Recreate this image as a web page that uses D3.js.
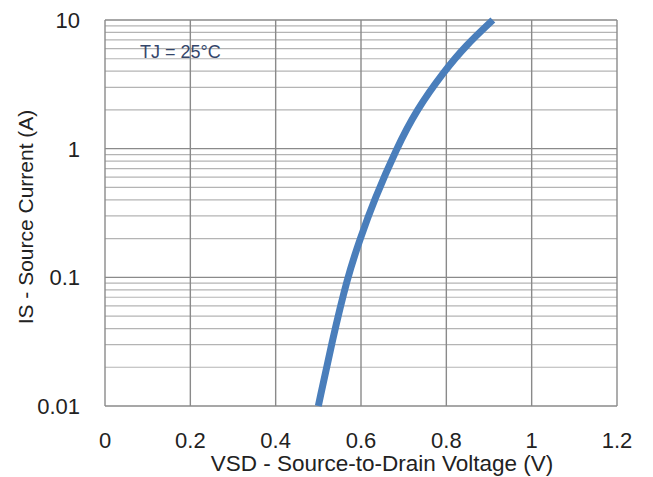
<!DOCTYPE html>
<html>
<head>
<meta charset="utf-8">
<script src="https://cdn.jsdelivr.net/npm/d3@7"></script>
<style>
	body { margin: 0; background: #fff; }
	text { font-family: "Liberation Sans", Arial, sans-serif; fill: #222; }
</style>
</head>
<body>
<svg id="chart"></svg>
<script>
// forward diode curve
let vsd = [0.500, 0.532, 0.568, 0.598, 0.631, 0.683, 0.730, 0.795, 0.845, 0.909];
let isCurrent = [0.01, 0.0316, 0.1, 0.2, 0.4, 1.0, 2.0, 4.0, 6.3, 10];

let xTicks = [0, 0.2, 0.4, 0.6, 0.8, 1, 1.2];
let yTicks = [0.01, 0.1, 1, 10];

let width = 653, height = 477;
let margin = {top: 20, right: 36, bottom: 71, left: 105};

let svg = d3.select("#chart")
	.attr("width", width)
	.attr("height", height);

let x = d3.scaleLinear()
	.domain([0, 1.2])
	.range([margin.left, width - margin.right]);
let y = d3.scaleLog()
	.domain([0.01, 10])
	.range([height - margin.bottom, margin.top]);

// minor horizontal grid, 2..9 of every decade
let minor = [];
[0.01, 0.1, 1].forEach(function(d){
	for (let k = 2; k <= 9; k++) minor.push(d*k);
});

let grid = svg.append("g");
grid.selectAll("line.minor")
	.data(minor)
	.enter().append("line")
	.attr("x1", x(0)).attr("x2", x(1.2))
	.attr("y1", (d) => y(d)).attr("y2", (d) => y(d))
	.attr("stroke", "#b4b4b4")
	.attr("stroke-width", 1.2);

grid.selectAll("line.major")
	.data(yTicks)
	.enter().append("line")
	.attr("x1", x(0)).attr("x2", x(1.2))
	.attr("y1", (d) => y(d)).attr("y2", (d) => y(d))
	.attr("stroke", "#8a8a8a")
	.attr("stroke-width", 1.4);

grid.selectAll("line.vert")
	.data(xTicks)
	.enter().append("line")
	.attr("x1", (d) => x(d)).attr("x2", (d) => x(d))
	.attr("y1", y(10)).attr("y2", y(0.01))
	.attr("stroke", "#8a8a8a")
	.attr("stroke-width", 1.4);

// tick labels
svg.append("g").selectAll("text")
	.data(xTicks)
	.enter().append("text")
	.attr("x", (d) => x(d))
	.attr("y", 448)
	.attr("text-anchor", "middle")
	.style("font-size", "22px")
	.text((d) => d);

svg.append("g").selectAll("text")
	.data(yTicks)
	.enter().append("text")
	.attr("x", 80)
	.attr("y", (d) => y(d) + 8)
	.attr("text-anchor", "end")
	.style("font-size", "22px")
	.text((d) => d);

// axis titles
svg.append("text")
	.attr("x", 382)
	.attr("y", 471)
	.attr("text-anchor", "middle")
	.style("font-size", "22.5px")
	.text("VSD - Source-to-Drain Voltage (V)");

svg.append("text")
	.attr("transform", "translate(33,217) rotate(-90)")
	.attr("text-anchor", "middle")
	.style("font-size", "21px")
	.text("IS - Source Current (A)");

svg.append("text")
	.attr("x", 140)
	.attr("y", 58)
	.style("font-size", "18px")
	.style("fill", "#34466a")
	.text("TJ = 25°C");

// the curve
let pts = vsd.map((v, i) => [v, isCurrent[i]]);
let line = d3.line()
	.x((d) => x(d[0]))
	.y((d) => y(d[1]))
	.curve(d3.curveBasis);

svg.append("path")
	.datum(pts)
	.attr("d", line)
	.attr("fill", "none")
	.attr("stroke", "#4a7ebb")
	.attr("stroke-width", 7);
</script>
</body>
</html>
